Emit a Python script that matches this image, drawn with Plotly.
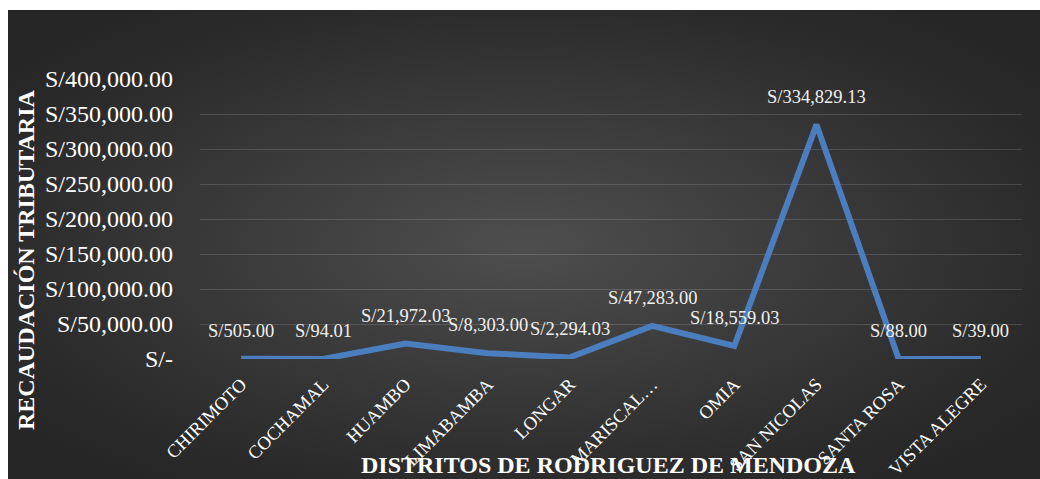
import base64
import plotly.graph_objects as go

# ---- data ----
categories = ["CHIRIMOTO", "COCHAMAL", "HUAMBO", "LIMABAMBA", "LONGAR",
              "MARISCAL…", "OMIA", "SAN NICOLAS", "SANTA ROSA", "VISTA ALEGRE"]
values = [505.00, 94.01, 21972.03, 8303.00, 2294.03,
          47283.00, 18559.03, 334829.13, 88.00, 39.00]
value_labels = ["S/505.00", "S/94.01", "S/21,972.03", "S/8,303.00", "S/2,294.03",
                "S/47,283.00", "S/18,559.03", "S/334,829.13", "S/88.00", "S/39.00"]
y_tickvals = [0, 50000, 100000, 150000, 200000, 250000, 300000, 350000, 400000]
y_ticktext = ["S/-", "S/50,000.00", "S/100,000.00", "S/150,000.00", "S/200,000.00",
              "S/250,000.00", "S/300,000.00", "S/350,000.00", "S/400,000.00"]
x_title = "DISTRITOS DE RODRIGUEZ DE MENDOZA"
y_title = "RECAUDACIÓN TRIBUTARIA"

W, H = 1040, 479
L, T = 200, 79
R = W - 1022
B = H - 359
pw, ph = W - L - R, H - T - B

def px_x(p):  # page px -> paper coords
    return (p - L) / pw

def px_y(p):
    return (H - B - p) / ph

FONT = "Liberation Serif, Times New Roman, serif"

svg = """<svg xmlns='http://www.w3.org/2000/svg' width='1000' height='500' viewBox='0 0 1000 500' preserveAspectRatio='none'>
<defs><radialGradient id='g' cx='50%' cy='50%' r='62%'>
<stop offset='0' stop-color='#4e4e4e'/><stop offset='0.8' stop-color='#2c2c2c'/><stop offset='1' stop-color='#262626'/>
</radialGradient></defs><rect width='1000' height='500' fill='url(#g)'/></svg>"""
bg_src = "data:image/svg+xml;base64," + base64.b64encode(svg.encode()).decode()

fig = go.Figure()
fig.add_trace(go.Scatter(
    x=categories, y=values, mode="lines",
    line=dict(color="#4a7ebf", width=6),
    hoverinfo="skip", showlegend=False,
))

for c, v, t in zip(categories, values, value_labels):
    fig.add_annotation(x=c, y=v, text=t, showarrow=False, yshift=28,
                       xanchor="center", yanchor="middle",
                       font=dict(family=FONT, size=18.5, color="#f0f0f0"))

fig.add_annotation(xref="paper", yref="paper", x=px_x(608), y=px_y(465),
                   text="<b>" + x_title + "</b>", showarrow=False,
                   xanchor="center", yanchor="middle",
                   font=dict(family=FONT, size=24, color="#ffffff"))
fig.add_annotation(xref="paper", yref="paper", x=px_x(26), y=px_y(260),
                   text="<b>" + y_title + "</b>", showarrow=False, textangle=-90,
                   xanchor="center", yanchor="middle",
                   font=dict(family=FONT, size=24, color="#ffffff"))

fig.add_layout_image(dict(
    source=bg_src, xref="paper", yref="paper",
    x=px_x(8), y=px_y(10), sizex=px_x(1040) - px_x(8), sizey=px_y(10) - px_y(479),
    xanchor="left", yanchor="top", sizing="stretch", layer="below",
))

fig.update_layout(
    template="none",
    width=W, height=H,
    margin=dict(l=L, r=R, t=T, b=B, pad=0, autoexpand=False),
    paper_bgcolor="#ffffff",
    plot_bgcolor="rgba(0,0,0,0)",
    font=dict(family=FONT, color="#ffffff"),
    xaxis=dict(
        type="category", tickangle=-45, showgrid=False, zeroline=False,
        showline=False, ticks="", ticklabelstandoff=10, automargin=False,
        tickfont=dict(family=FONT, size=18.5, color="#ffffff"),
        range=[-0.5, len(categories) - 0.5],
    ),
    yaxis=dict(
        range=[0, 400000], tickvals=y_tickvals, ticktext=y_ticktext,
        showgrid=True, gridcolor="rgba(255,255,255,0.14)", gridwidth=1.3,
        zeroline=False, showline=False, ticks="", ticklabelstandoff=26,
        automargin=False,
        tickfont=dict(family=FONT, size=24, color="#ffffff"),
    ),
)

fig.write_html(
    "out.html",
    config={"displayModeBar": False},
    post_script="document.body.style.margin='0';document.body.style.overflow='hidden';",
)
